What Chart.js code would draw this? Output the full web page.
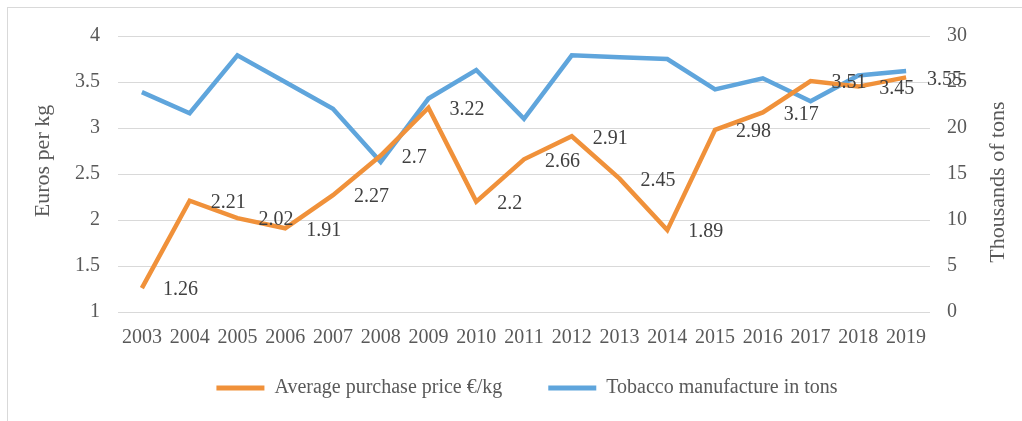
<!DOCTYPE html>
<html>
<head>
<meta charset="utf-8">
<script src="https://cdn.jsdelivr.net/npm/chart.js@4/dist/chart.umd.min.js"></script>
<style>
    html, body { margin: 0; padding: 0; background: #fff; }
    #frame {
        position: absolute; left: 7px; top: 7px; right: 0; bottom: 0;
        border-left: 1px solid #d9d9d9; border-top: 1px solid #d9d9d9;
    }
    #myChart { position: absolute; left: 0; top: 0; }
</style>
</head>
<body>
<div id="frame"></div>
<canvas id="myChart" width="1022" height="421"></canvas>
<script>
const years = ['2003', '2004', '2005', '2006', '2007', '2008', '2009', '2010', '2011',
    '2012', '2013', '2014', '2015', '2016', '2017', '2018', '2019'];
const avgPrice = [1.26, 2.21, 2.02, 1.91, 2.27, 2.7, 3.22, 2.2, 2.66, 2.91, 2.45, 1.89, 2.98, 3.17, 3.51, 3.45, 3.55];
const manufacture = [23.9, 21.6, 27.9, 25.0, 22.1, 16.3, 23.2, 26.3, 21.0, 27.9, 27.7, 27.5, 24.2, 25.4, 22.9, 25.7, 26.2];
const leftTicks = [1, 1.5, 2, 2.5, 3, 3.5, 4];
const rightTicks = [0, 5, 10, 15, 20, 25, 30];
const leftTitle = 'Euros per kg';
const rightTitle = 'Thousands of tons';

const serif = '"Liberation Serif", "Times New Roman", serif';
const textGrey = '#595959';

// value labels to the right of the price points
const valueLabels = {
    id: 'valueLabels',
    afterDatasetsDraw(chart) {
        const ctx = chart.ctx;
        const meta = chart.getDatasetMeta(0);
        ctx.save();
        ctx.font = '20px ' + serif;
        ctx.fillStyle = '#404040';
        ctx.textAlign = 'left';
        ctx.textBaseline = 'middle';
        meta.data.forEach((pt, i) => {
            ctx.fillText(String(avgPrice[i]), pt.x + 21, pt.y + 2);
        });
        ctx.restore();
    }
};

// both axis titles read bottom to top, like the original
const axisTitles = {
    id: 'axisTitles',
    afterDraw(chart) {
        const ctx = chart.ctx;
        const area = chart.chartArea;
        const mid = (area.top + area.bottom) / 2;
        ctx.save();
        ctx.font = '22px ' + serif;
        ctx.fillStyle = textGrey;
        ctx.textAlign = 'center';
        ctx.textBaseline = 'middle';
        [[chart.scales.y.left + 35, mid - 13, leftTitle],
         [chart.scales.y1.right - 24, mid + 8, rightTitle]].forEach(t => {
            ctx.save();
            ctx.translate(t[0], t[1]);
            ctx.rotate(-Math.PI / 2);
            ctx.fillText(t[2], 0, 0);
            ctx.restore();
        });
        ctx.restore();
    }
};

// wide gap between legend items without pushing the plot up:
// the legend takes 20px less room, then its box is stretched back up
const legendGap = {
    id: 'legendGap',
    afterInit(chart) {
        const legend = chart.legend;
        const fit = legend.fit.bind(legend);
        legend.fit = function() {
            fit();
            this.height -= 20;
        };
    },
    afterLayout(chart) {
        const legend = chart.legend;
        legend.top -= 20;
        legend.height += 20;
        legend.left += 24;
    }
};

const ctx = document.getElementById('myChart').getContext('2d');
new Chart(ctx, {
    type: 'line',
    data: {
        labels: years,
        datasets: [
            {
                label: 'Average purchase price €/kg',
                data: avgPrice,
                yAxisID: 'y',
                borderColor: '#F0913A',
                backgroundColor: '#F0913A',
                borderWidth: 4.5,
                pointRadius: 0,
                tension: 0
            },
            {
                label: 'Tobacco manufacture in tons',
                data: manufacture,
                yAxisID: 'y1',
                borderColor: '#5FA5DC',
                backgroundColor: '#5FA5DC',
                borderWidth: 4.5,
                pointRadius: 0,
                tension: 0
            }
        ]
    },
    options: {
        responsive: false,
        animation: false,
        layout: { padding: { left: 8, right: 0, top: 36, bottom: 13 } },
        plugins: {
            legend: {
                position: 'bottom',
                labels: {
                    boxWidth: 48,
                    boxHeight: 5,
                    padding: 46,
                    color: textGrey,
                    font: { family: serif, size: 20 },
                    generateLabels: function(chart) {
                        return Chart.defaults.plugins.legend.labels.generateLabels(chart).map(function(l) {
                            l.lineWidth = 0;
                            l.fillStyle = l.strokeStyle;
                            return l;
                        });
                    }
                }
            },
            tooltip: { enabled: false }
        },
        scales: {
            x: {
                offset: true,
                grid: { display: false, drawTicks: false },
                border: { display: false },
                ticks: {
                    color: textGrey,
                    padding: 14,
                    maxRotation: 0,
                    autoSkip: false,
                    font: { family: serif, size: 20 }
                },
                afterFit: function(scale) { scale.height = 40; }
            },
            y: {
                position: 'left',
                min: 1,
                max: 4,
                afterBuildTicks: function(scale) {
                    scale.ticks = leftTicks.map(v => ({ value: v }));
                },
                grid: { color: '#d9d9d9', lineWidth: 1, drawTicks: false },
                border: { display: false },
                ticks: {
                    color: textGrey,
                    padding: 18,
                    font: { family: serif, size: 20 },
                    callback: function(value) { return String(value); }
                },
                afterFit: function(scale) { scale.width = 110; }
            },
            y1: {
                position: 'right',
                min: 0,
                max: 30,
                afterBuildTicks: function(scale) {
                    scale.ticks = rightTicks.map(v => ({ value: v }));
                },
                grid: { display: false, drawTicks: false },
                border: { display: false },
                ticks: {
                    color: textGrey,
                    padding: 17,
                    font: { family: serif, size: 20 },
                    callback: function(value) { return String(value); }
                },
                afterFit: function(scale) { scale.width = 92; }
            }
        }
    },
    plugins: [valueLabels, axisTitles, legendGap]
});
</script>
</body>
</html>
